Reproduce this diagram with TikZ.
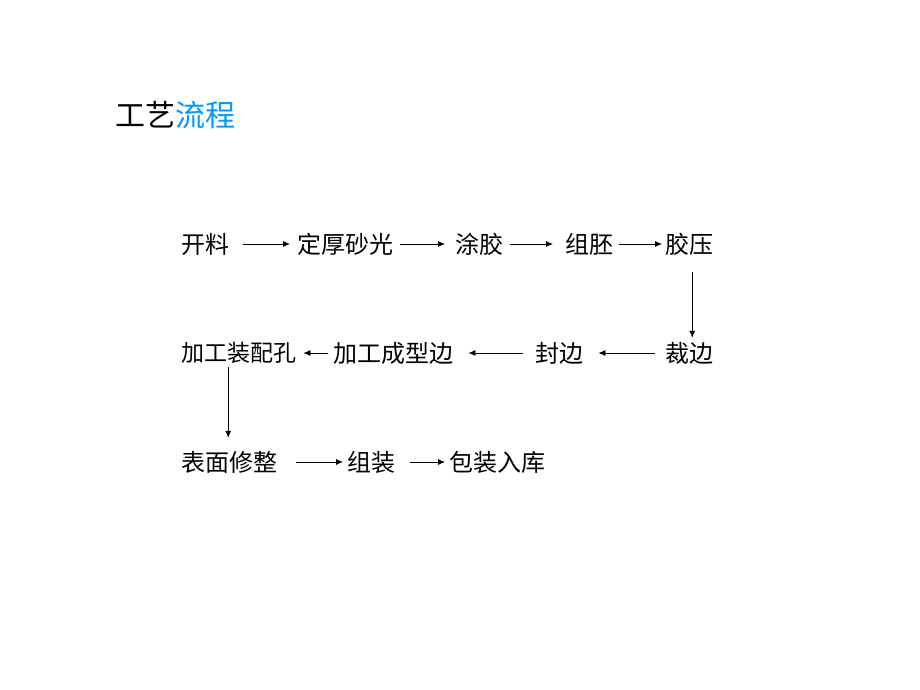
\documentclass[tikz,border=0pt]{standalone}
\usepackage{fontspec}
\newfontfamily\cjk{Noto Sans CJK SC}
\usetikzlibrary{arrows.meta}
\definecolor{titleblue}{RGB}{0,153,255}
\begin{document}
\begin{tikzpicture}[x=1pt,y=-1pt,
  stepbox/.style={anchor=west,inner sep=0pt,text height=21.12pt,text depth=2.88pt,
    font=\cjk\fontsize{24pt}{24pt}\selectfont},
  smallbox/.style={anchor=west,inner sep=0pt,text height=20.24pt,text depth=2.76pt,
    font=\cjk\fontsize{23pt}{23pt}\selectfont},
  titlebox/.style={anchor=west,inner sep=0pt,text height=26.4pt,text depth=3.6pt,
    font=\cjk\fontsize{30pt}{30pt}\selectfont},
  arr/.style={-{Latex[length=7pt,width=6pt]},line width=0.8pt}]
\useasboundingbox[fill=white] (0,0) rectangle (920,690);
% title
\node[titlebox] (title) at (115,115) {工艺{\color{titleblue}流程}};
% row 1
\node[stepbox] (kailiao) at (181,244) {开料};
\node[stepbox] (dinghou) at (297,244) {定厚砂光};
\node[stepbox] (tujiao) at (455,244) {涂胶};
\node[stepbox] (zupei) at (565,244) {组胚};
\node[stepbox] (jiaoya) at (665,244) {胶压};
% row 2
\node[smallbox] (zhuangpei) at (181,353) {加工装配孔};
\node[stepbox] (chengxing) at (333,353) {加工成型边};
\node[stepbox] (fengbian) at (535,353) {封边};
\node[stepbox] (caibian) at (665,353) {裁边};
% row 3
\node[stepbox] (biaomian) at (181,462) {表面修整};
\node[stepbox] (zuzhuang) at (347,462) {组装};
\node[stepbox] (baozhuang) at (449,462) {包装入库};
% arrows row 1
\draw[arr] ([xshift=14pt]kailiao.east) -- ([xshift=-7pt]dinghou.west);
\draw[arr] ([xshift=7pt]dinghou.east) -- ([xshift=-10pt]tujiao.west);
\draw[arr] ([xshift=7pt]tujiao.east) -- ([xshift=-12pt]zupei.west);
\draw[arr] ([xshift=6pt]zupei.east) -- ([xshift=-3pt]jiaoya.west);
% down
\draw[arr] ([xshift=3pt,yshift=-16pt]jiaoya.south) -- ([xshift=3pt,yshift=3pt]caibian.north);
% arrows row 2
\draw[arr] ([xshift=-10pt]caibian.west) -- ([xshift=15pt]fengbian.east);
\draw[arr] ([xshift=-12pt]fengbian.west) -- ([xshift=15pt]chengxing.east);
\draw[arr] ([xshift=-5pt]chengxing.west) -- ([xshift=7pt]zhuangpei.east);
% down
\draw[arr] ([xshift=-10.5pt,yshift=-2.5pt]zhuangpei.south) -- ([xshift=-1pt,yshift=12pt]biaomian.north);
% arrows row 3
\draw[arr] ([xshift=19pt]biaomian.east) -- ([xshift=-4pt]zuzhuang.west);
\draw[arr] ([xshift=15pt]zuzhuang.east) -- ([xshift=-4pt]baozhuang.west);
\end{tikzpicture}
\end{document}
